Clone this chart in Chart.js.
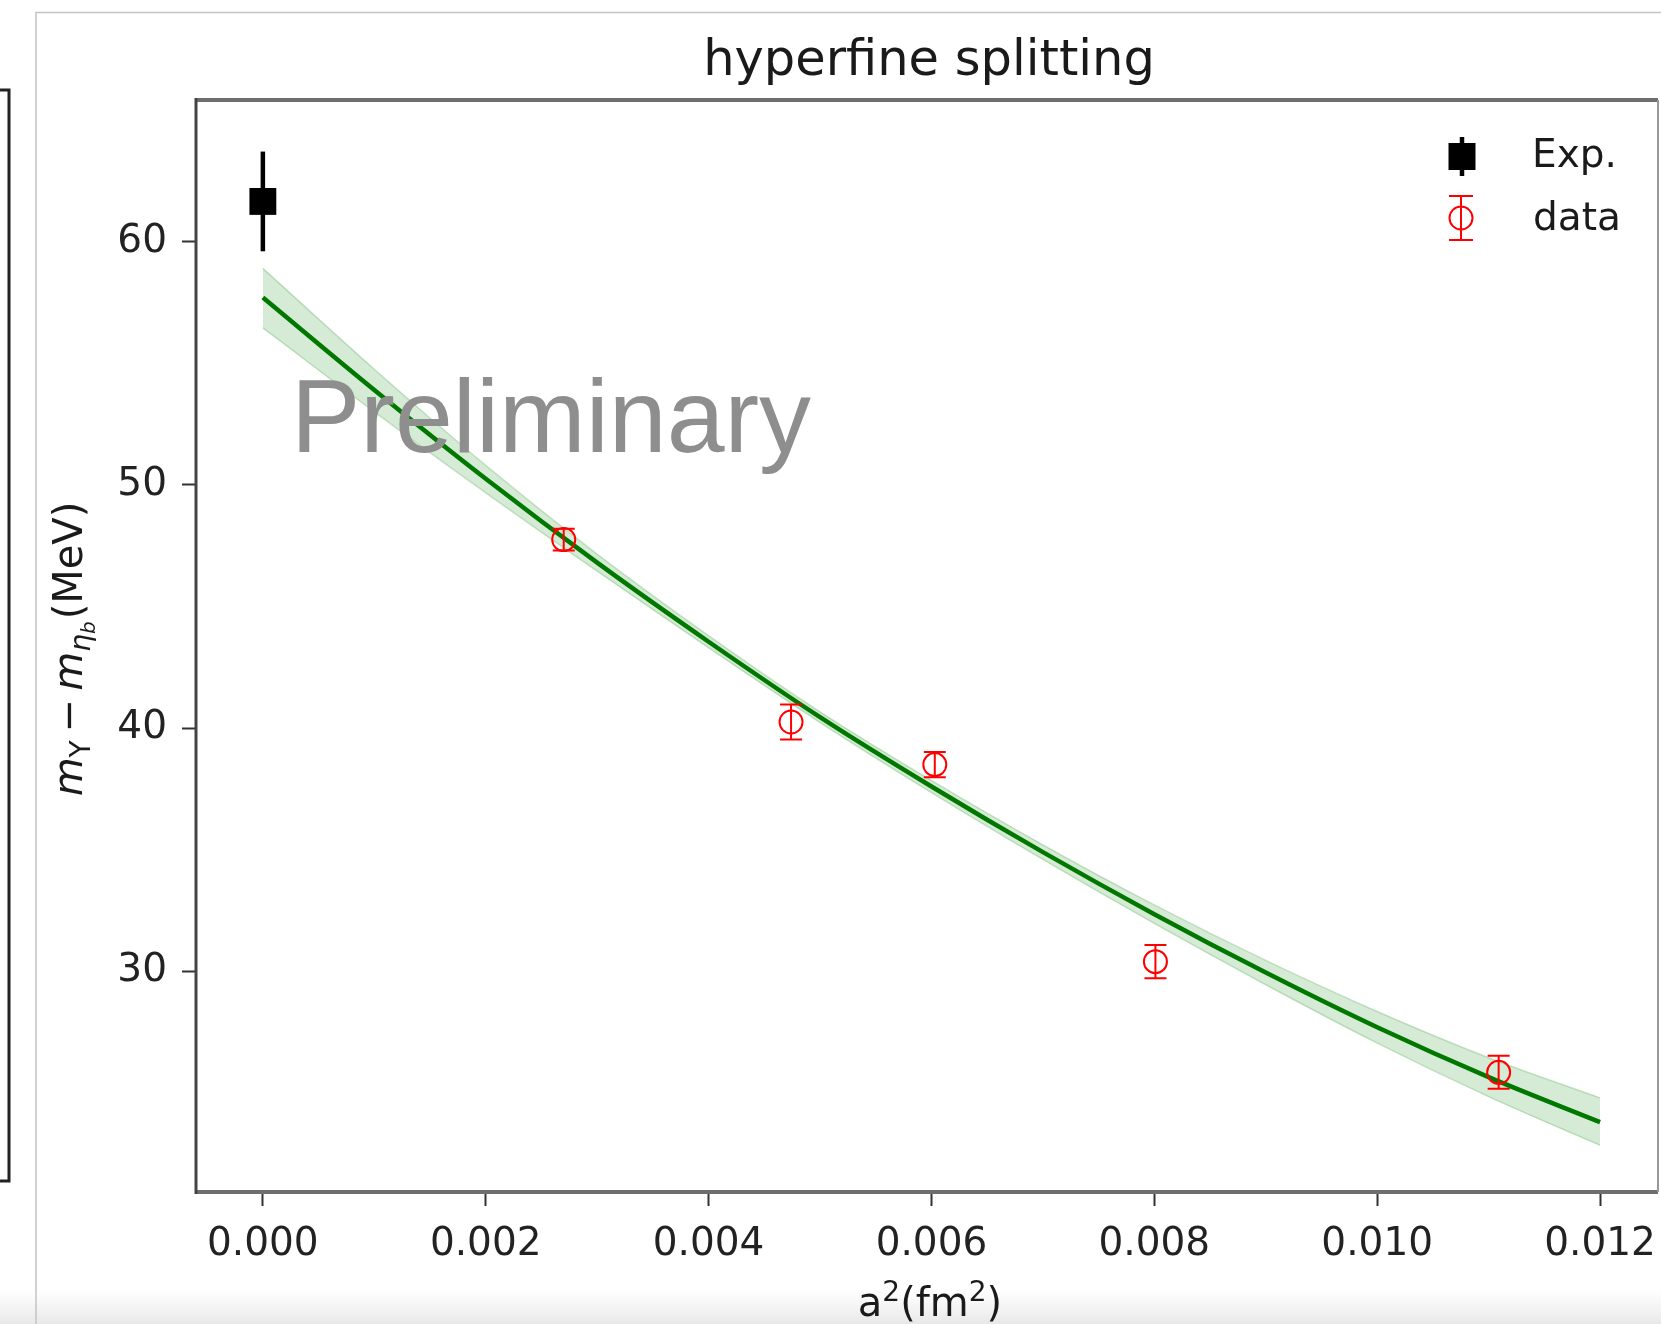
<!DOCTYPE html>
<html>
<head>
<meta charset="utf-8">
<title>hyperfine splitting</title>
<script src="https://cdn.jsdelivr.net/npm/chart.js@4.4.0/dist/chart.umd.min.js"></script>
<style>
  html, body { margin: 0; padding: 0; background: #fff; }
  canvas { display: block; }
</style>
</head>
<body>
<canvas id="chartHfs" width="1661" height="1324"></canvas>
<script>
// Exp. point
const expX = [0];
const expY = [61.65];
const expErr = [2.05];

// lattice data
const dataX = [0.0027, 0.00474, 0.00603, 0.00801, 0.01109];
const dataY = [47.75, 40.25, 38.5, 30.4, 25.85];
const dataErr = [0.45, 0.72, 0.52, 0.68, 0.68];

// fit curve and its error band
const fitX = [0, 0.001, 0.002, 0.003, 0.004, 0.005, 0.006, 0.007, 0.008, 0.009, 0.010, 0.011, 0.012];
const fitY = [57.7, 53.9, 50.25, 46.8, 43.55, 40.45, 37.6, 34.9, 32.35, 29.95, 27.7, 25.65, 23.8];
const bandHi = [58.9, 54.75, 50.8, 47.15, 43.8, 40.67, 37.85, 35.2, 32.73, 30.45, 28.35, 26.45, 24.8];
const bandLo = [56.45, 53.0, 49.67, 46.45, 43.3, 40.23, 37.35, 34.6, 31.97, 29.45, 27.05, 24.85, 22.85];

// axes
const xTicks = [0, 0.002, 0.004, 0.006, 0.008, 0.010, 0.012];
const yTicks = [30, 40, 50, 60];

const FONT = '"DejaVu Sans", sans-serif';
const pts = (xs, ys) => xs.map((x, i) => ({ x, y: ys[i] }));

// mixed-size text runs on one baseline
function runsWidth(ctx, runs) {
  let w = 0;
  runs.forEach(r => { ctx.font = r.font; w += ctx.measureText(r.t).width + (r.gap || 0); });
  return w;
}
function drawRuns(ctx, runs, x0, base) {
  let cx = x0;
  runs.forEach(r => {
    ctx.font = r.font;
    ctx.fillText(r.t, cx, base + (r.dy || 0));
    cx += ctx.measureText(r.t).width + (r.gap || 0);
  });
}

// error bars, through the chart scales
const errorBars = {
  id: 'errorBars',
  afterDatasetsDraw(chart) {
    const { ctx, scales: { x, y } } = chart;
    ctx.save();
    ctx.strokeStyle = '#000';
    ctx.lineWidth = 4.5;
    expX.forEach((v, i) => {
      const px = x.getPixelForValue(v);
      ctx.beginPath();
      ctx.moveTo(px, y.getPixelForValue(expY[i] + expErr[i]));
      ctx.lineTo(px, y.getPixelForValue(expY[i] - expErr[i]));
      ctx.stroke();
    });
    ctx.strokeStyle = '#ff0000';
    ctx.lineWidth = 2;
    dataX.forEach((v, i) => {
      const px = x.getPixelForValue(v);
      const top = y.getPixelForValue(dataY[i] + dataErr[i]);
      const bot = y.getPixelForValue(dataY[i] - dataErr[i]);
      ctx.beginPath();
      ctx.moveTo(px, top); ctx.lineTo(px, bot);
      ctx.moveTo(px - 11, top); ctx.lineTo(px + 11, top);
      ctx.moveTo(px - 11, bot); ctx.lineTo(px + 11, bot);
      ctx.stroke();
    });
    ctx.restore();
  }
};

// page frame, watermark, axes box, title, labels, legend
const decor = {
  id: 'decor',
  beforeDraw(chart) {
    const { ctx, width, height } = chart;
    ctx.save();
    ctx.fillStyle = '#fff';
    ctx.fillRect(0, 0, width, height);
    const g = ctx.createLinearGradient(0, 1290, 0, height);
    g.addColorStop(0, 'rgba(235,235,235,0)');
    g.addColorStop(1, '#e8e8e8');
    ctx.fillStyle = g;
    ctx.fillRect(0, 1290, width, height - 1290);
    ctx.strokeStyle = '#c4c4c4';
    ctx.lineWidth = 1.5;
    ctx.beginPath();
    ctx.moveTo(36, height); ctx.lineTo(36, 12.5); ctx.lineTo(width, 12.5);
    ctx.stroke();
    ctx.strokeStyle = '#222';
    ctx.lineWidth = 3;
    ctx.beginPath();
    ctx.moveTo(0, 90); ctx.lineTo(9, 90); ctx.lineTo(9, 1181); ctx.lineTo(0, 1181);
    ctx.stroke();
    ctx.restore();
  },
  afterDatasetsDraw(chart) {
    const { ctx, chartArea: a } = chart;
    ctx.save();
    ctx.fillStyle = '#8e8e8e';
    ctx.font = '104px "Liberation Sans", Arial, sans-serif';
    ctx.textAlign = 'left';
    ctx.textBaseline = 'alphabetic';
    ctx.fillText('Preliminary', 291, 452);

    ctx.strokeStyle = '#6e6e6e';
    ctx.lineWidth = 4;
    ctx.beginPath();
    ctx.moveTo(a.left, a.top); ctx.lineTo(a.right, a.top);
    ctx.moveTo(a.left, a.bottom); ctx.lineTo(a.right, a.bottom);
    ctx.stroke();
    ctx.strokeStyle = '#444';
    ctx.lineWidth = 3;
    ctx.beginPath();
    ctx.moveTo(a.left, a.top - 2); ctx.lineTo(a.left, a.bottom + 2);
    ctx.stroke();
    ctx.strokeStyle = '#999';
    ctx.lineWidth = 2;
    ctx.beginPath();
    ctx.moveTo(a.right, a.top); ctx.lineTo(a.right, a.bottom);
    ctx.stroke();
    ctx.restore();
  },
  afterDraw(chart) {
    const { ctx, chartArea: a } = chart;
    ctx.save();
    ctx.fillStyle = '#1a1a1a';
    ctx.textBaseline = 'alphabetic';

    ctx.textAlign = 'center';
    ctx.font = `49.5px ${FONT}`;
    ctx.fillText('hyperfine splitting', (a.left + a.right) / 2 + 2, 75);

    ctx.textAlign = 'left';
    const xl = [
      { t: 'a', font: `40px ${FONT}` },
      { t: '2', font: `28px ${FONT}`, dy: -15 },
      { t: '(fm', font: `40px ${FONT}` },
      { t: '2', font: `28px ${FONT}`, dy: -15 },
      { t: ')', font: `40px ${FONT}` }
    ];
    drawRuns(ctx, xl, 930 - runsWidth(ctx, xl) / 2, 1316);

    const yl = [
      { t: 'm', font: `italic 40px ${FONT}` },
      { t: 'Υ', font: `28px ${FONT}`, dy: 8, gap: 8 },
      { t: '−', font: `40px ${FONT}`, gap: 8 },
      { t: 'm', font: `italic 40px ${FONT}` },
      { t: 'η', font: `italic 28px ${FONT}`, dy: 8 },
      { t: 'b', font: `italic 20px ${FONT}`, dy: 13, gap: 2 },
      { t: '(MeV)', font: `40px ${FONT}` }
    ];
    ctx.translate(82, 649);
    ctx.rotate(-Math.PI / 2);
    drawRuns(ctx, yl, -runsWidth(ctx, yl) / 2, 0);
    ctx.setTransform(1, 0, 0, 1, 0, 0);

    // legend
    ctx.strokeStyle = '#000';
    ctx.lineWidth = 4.5;
    ctx.beginPath();
    ctx.moveTo(1462, 137); ctx.lineTo(1462, 176);
    ctx.stroke();
    ctx.fillStyle = '#000';
    ctx.fillRect(1448.5, 143, 27, 27);
    ctx.strokeStyle = '#ff0000';
    ctx.lineWidth = 2;
    ctx.beginPath();
    ctx.arc(1461, 218, 11.5, 0, Math.PI * 2);
    ctx.moveTo(1461, 196); ctx.lineTo(1461, 240);
    ctx.moveTo(1449, 196); ctx.lineTo(1473, 196);
    ctx.moveTo(1449, 240); ctx.lineTo(1473, 240);
    ctx.stroke();
    ctx.fillStyle = '#1a1a1a';
    ctx.font = `39px ${FONT}`;
    ctx.fillText('Exp.', 1532, 167);
    ctx.fillText('data', 1533, 230);
    ctx.restore();
  }
};

const tickFont = { family: FONT, size: 39 };

new Chart(document.getElementById('chartHfs'), {
  type: 'scatter',
  data: {
    datasets: [
      { label: 'data', data: pts(dataX, dataY), pointStyle: 'circle', pointRadius: 11.5,
        pointBorderWidth: 2, pointBorderColor: '#ff0000', pointBackgroundColor: 'rgba(0,0,0,0)' },
      { label: 'Exp.', data: pts(expX, expY), pointStyle: 'rect', pointRadius: 19,
        pointBorderWidth: 0, pointBorderColor: '#000', pointBackgroundColor: '#000' },
      { type: 'line', label: 'fit', data: pts(fitX, fitY), borderColor: '#007800', borderWidth: 4.5,
        pointRadius: 0, cubicInterpolationMode: 'monotone', fill: false },
      { type: 'line', label: 'band', data: pts(fitX, bandHi), borderColor: 'rgba(0,128,0,0.2)', borderWidth: 1.5,
        backgroundColor: 'rgba(0,128,0,0.16)', pointRadius: 0, cubicInterpolationMode: 'monotone', fill: '+1' },
      { type: 'line', label: 'band-lo', data: pts(fitX, bandLo), borderColor: 'rgba(0,128,0,0.2)', borderWidth: 1.5,
        pointRadius: 0, cubicInterpolationMode: 'monotone', fill: false }
    ]
  },
  options: {
    responsive: false,
    animation: false,
    devicePixelRatio: 1,
    events: [],
    layout: { autoPadding: false, padding: { top: 100, right: 3, bottom: 0, left: 0 } },
    plugins: { legend: { display: false }, tooltip: { enabled: false } },
    scales: {
      x: {
        type: 'linear', min: -0.0006, max: 0.01252,
        afterFit: s => { s.height = 132; s.paddingLeft = 0; s.paddingRight = 0; },
        afterBuildTicks: s => { s.ticks = xTicks.map(v => ({ value: v })); },
        border: { display: false },
        grid: { drawOnChartArea: false, drawTicks: true, tickLength: 14, tickWidth: 2, tickColor: '#333' },
        ticks: { font: tickFont, color: '#222', padding: 15, maxRotation: 0, autoSkip: false,
          callback: v => v.toFixed(3) }
      },
      y: {
        type: 'linear', min: 20.93, max: 65.82,
        afterFit: s => { s.width = 196; s.paddingTop = 0; s.paddingBottom = 0; },
        afterBuildTicks: s => { s.ticks = yTicks.map(v => ({ value: v })); },
        border: { display: false },
        grid: { drawOnChartArea: false, drawTicks: true, tickLength: 14, tickWidth: 2, tickColor: '#333' },
        ticks: { font: tickFont, color: '#222', padding: 15, callback: v => String(v) }
      }
    }
  },
  plugins: [errorBars, decor]
});
</script>
</body>
</html>
